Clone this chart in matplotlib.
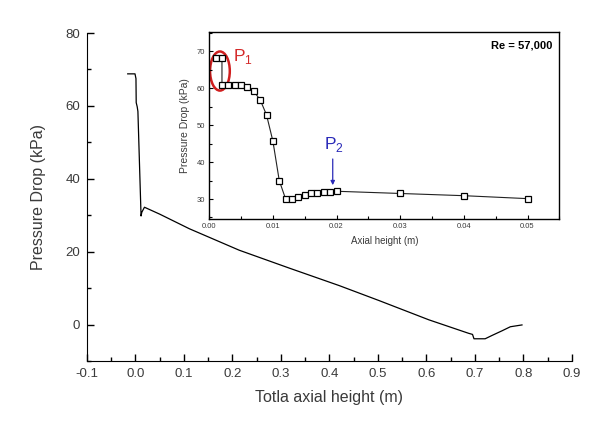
import matplotlib
matplotlib.use('Agg')
import matplotlib.pyplot as plt
from matplotlib.patches import Ellipse
from matplotlib.ticker import MultipleLocator

plt.rcParams['font.family'] = ['Liberation Sans', 'DejaVu Sans']
plt.rcParams['axes.unicode_minus'] = False

# full length profile
main_x = [-0.016, -0.001, 0.001, 0.0015, 0.0035, 0.005, 0.0115, 0.013, 0.0185, 0.05,
          0.111, 0.214, 0.317, 0.42, 0.502, 0.605, 0.687, 0.695, 0.698, 0.721,
          0.735, 0.756, 0.773, 0.797]
main_y = [68.8, 68.8, 67.5, 60.9, 59.8, 58.5, 29.8, 30.8, 32.2, 30.3,
          26.3, 20.4, 15.5, 10.7, 6.6, 1.3, -2.4, -2.7, -3.9, -3.9,
          -3.0, -1.7, -0.6, -0.1]

# inset: first 5 cm
ins_x = [0.001, 0.002, 0.002, 0.003, 0.004, 0.005, 0.006, 0.007, 0.008, 0.009,
         0.010, 0.011, 0.012, 0.013, 0.014, 0.015, 0.016, 0.017, 0.018, 0.019,
         0.020, 0.030, 0.040, 0.050]
ins_y = [68.3, 68.3, 60.8, 60.8, 60.8, 60.8, 60.4, 59.2, 56.9, 52.8,
         45.7, 35.0, 30.0, 29.9, 30.5, 31.1, 31.6, 31.7, 31.9, 32.0,
         32.1, 31.5, 30.9, 30.1]

txt = '#3a3a3a'

fig = plt.figure(figsize=(6.1, 4.21), dpi=100)
ax = fig.add_axes([0.1426, 0.1425, 0.795, 0.779])
ax.plot(main_x, main_y, color='black', lw=0.9)
ax.set_xlim(-0.1, 0.9)
ax.set_ylim(-10, 80)
ax.spines['top'].set_visible(False)
ax.spines['right'].set_visible(False)
ax.xaxis.set_minor_locator(MultipleLocator(0.05))
ax.yaxis.set_major_locator(MultipleLocator(20))
ax.yaxis.set_minor_locator(MultipleLocator(10))
ax.set_xticks([-0.1 + 0.1 * i for i in range(11)])
ax.set_xticklabels(['%.1f' % (-0.1 + 0.1 * i) for i in range(11)])
ax.tick_params(which='major', direction='in', length=5, width=1, labelsize=9.5,
               labelcolor=txt, pad=5)
ax.tick_params(which='minor', direction='in', length=3, width=1)
ax.set_xlabel('Totla axial height (m)', fontsize=11.5, color=txt, labelpad=7)
ax.set_ylabel('Pressure Drop (kPa)', fontsize=11.5, color=txt, labelpad=14)

ins = fig.add_axes([0.343, 0.480, 0.574, 0.445])
ins.plot(ins_x, ins_y, color='#222222', lw=0.8, marker='s', markersize=5,
         markerfacecolor='white', markeredgecolor='black', markeredgewidth=0.9)
ins.set_xlim(0, 0.055)
ins.set_ylim(24.6, 75.4)
ins.xaxis.set_major_locator(MultipleLocator(0.01))
ins.xaxis.set_minor_locator(MultipleLocator(0.005))
ins.yaxis.set_major_locator(MultipleLocator(10))
ins.yaxis.set_minor_locator(MultipleLocator(5))
ins.xaxis.set_major_formatter(matplotlib.ticker.FormatStrFormatter('%.2f'))
ins.tick_params(which='major', direction='in', length=3, width=0.8, labelsize=5.5,
                labelcolor=txt, pad=3)
ins.tick_params(which='minor', direction='in', length=2, width=0.8)
for s in ins.spines.values():
    s.set_linewidth(1)
ins.set_xlabel('Axial height (m)', fontsize=7, color=txt, labelpad=4)
ins.set_ylabel('Pressure Drop (kPa)', fontsize=7.5, color=txt, labelpad=5)

ins.text(0.981, 0.955, 'Re = 57,000', transform=ins.transAxes, ha='right', va='top',
         fontsize=8, fontweight='bold', color='black')

ins.add_patch(Ellipse((0.00168, 64.7), 0.0031, 10.6, fill=False,
                      edgecolor='#d01f1f', lw=1.8))
ins.text(0.0037, 67.3, r'P$_\mathregular{1}$', color='#d42a2a', fontsize=12.5)
ins.text(0.0181, 43.5, r'P$_\mathregular{2}$', color='#2a2ab8', fontsize=12.5)
ins.annotate('', xy=(0.0194, 33.0), xytext=(0.0194, 41.6),
             arrowprops=dict(arrowstyle='-|>', color='#2a2ab8', lw=0.9,
                             mutation_scale=6))

fig.savefig('out.png', dpi=100)
